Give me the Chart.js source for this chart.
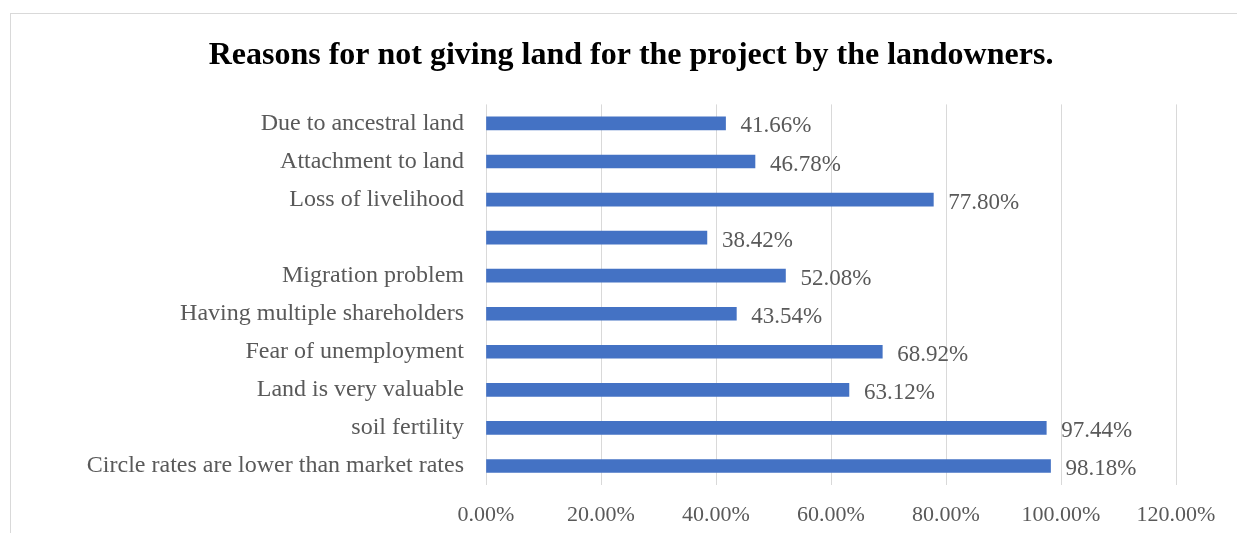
<!DOCTYPE html>
<html>
<head>
<meta charset="utf-8">
<script src="https://cdn.jsdelivr.net/npm/chart.js@4"></script>
<style>
  html, body { margin: 0; padding: 0; background: #fff; overflow: hidden; }
  #frame { position: absolute; left: 10px; top: 13px; width: 2000px; height: 2000px; border: 1px solid #d9d9d9; }
  #chart { position: absolute; left: 0; top: 0; }
</style>
</head>
<body>
<div id="frame"></div>
<canvas id="chart" width="1237" height="533"></canvas>
<script>
// categories, top to bottom (4th label is blank in the original)
const reasons = [
    "Due to ancestral land",
    "Attachment to land",
    "Loss of livelihood",
    "",
    "Migration problem",
    "Having multiple shareholders",
    "Fear of unemployment",
    "Land is very valuable",
    "soil fertility",
    "Circle rates are lower than market rates"
];
// percent of landowners
const percentages = [41.66, 46.78, 77.80, 38.42, 52.08, 43.54, 68.92, 63.12, 97.44, 98.18];
const xTicks = [0, 20, 40, 60, 80, 100, 120];

const serif = "'Liberation Serif', 'Times New Roman', serif";

// draws the value at the end of every bar
const barValues = {
    id: "barValues",
    afterDatasetsDraw(chart) {
        const ctx = chart.ctx;
        const meta = chart.getDatasetMeta(0);
        ctx.save();
        ctx.font = "23px " + serif;
        ctx.fillStyle = "#595959";
        ctx.textAlign = "left";
        ctx.textBaseline = "middle";
        meta.data.forEach((bar, i) => {
            ctx.fillText(percentages[i].toFixed(2) + "%", bar.x + 15, bar.y + 3);
        });
        ctx.restore();
    }
};

new Chart(document.getElementById("chart").getContext("2d"), {
    type: "bar",
    data: {
        labels: reasons,
        datasets: [{
            data: percentages,
            backgroundColor: "#4472C4",
            borderWidth: 0,
            barThickness: 13
        }]
    },
    options: {
        indexAxis: "y",
        responsive: false,
        animation: false,
        layout: { padding: { left: 86, right: 61, top: 0, bottom: 0 } },
        plugins: {
            legend: { display: false },
            tooltip: { enabled: false },
            title: {
                display: true,
                text: "Reasons for not giving land for the project by the landowners.",
                color: "#000",
                font: { family: serif, size: 32, weight: "bold" },
                padding: { top: 37, bottom: 29 }
            }
        },
        scales: {
            x: {
                min: 0,
                max: 120,
                afterBuildTicks(scale) {
                    scale.ticks = xTicks.map(v => ({ value: v }));
                },
                afterFit(scale) { scale.height = 48; },
                grid: { color: "#d9d9d9", lineWidth: 1, drawTicks: false },
                border: { display: false },
                ticks: {
                    padding: 17,
                    color: "#595959",
                    font: { family: serif, size: 22 },
                    callback: v => v.toFixed(2) + "%"
                }
            },
            y: {
                grid: { display: false, drawTicks: false },
                border: { display: false },
                afterFit(scale) { scale.width = 400; },
                ticks: {
                    padding: 22,
                    color: "#595959",
                    font: { family: serif, size: 24 },
                    autoSkip: false
                }
            }
        }
    },
    plugins: [barValues]
});
</script>
</body>
</html>
